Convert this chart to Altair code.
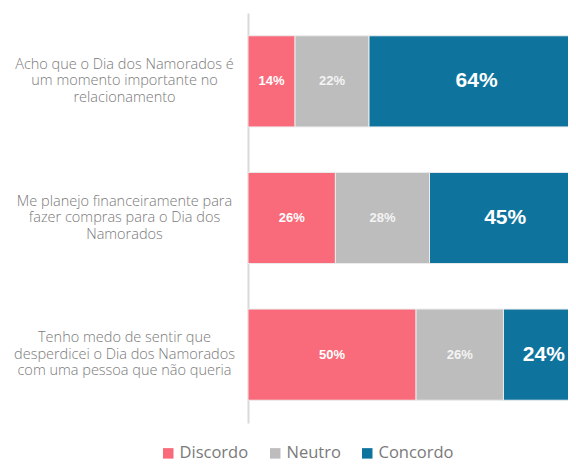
import altair as alt
import pandas as pd

statements = [
    "Acho que o Dia dos Namorados é|um momento importante no|relacionamento",
    "Me planejo financeiramente para|fazer compras para o Dia dos|Namorados",
    "Tenho medo de sentir que|desperdicei o Dia dos Namorados|com uma pessoa que não queria",
]
answers = ["Discordo", "Neutro", "Concordo"]
discordo = [14, 26, 50]
neutro = [22, 28, 26]
concordo = [64, 45, 24]
colors = ["#F96B7A", "#BDBDBD", "#0E749E"]
label_colors = ["#ffffff", "#f4f4f4", "#ffffff"]
label_sizes = [13, 13, 21]

rows = []
for i, s in enumerate(statements):
    start = 0
    for j, (a, vals) in enumerate(zip(answers, [discordo, neutro, concordo])):
        v = vals[i]
        rows.append({
            "statement": s, "answer": a, "value": v,
            "start": start, "end": start + v, "mid": start + v / 2,
            "label": f"{v}%", "order": j,
            "lcolor": label_colors[j], "lsize": label_sizes[j],
        })
        start += v
df = pd.DataFrame(rows)

xscale = alt.Scale(domain=[0, 95.2], nice=False, zero=True)
yenc = alt.Y("statement:N", sort=statements, title=None,
             scale=alt.Scale(paddingInner=0.333, paddingOuter=0.1667),
             axis=alt.Axis(domainColor="#d9d9d9", domainWidth=2, ticks=False,
                           labelExpr="split(datum.label, '|')",
                           labelAlign="center", labelPadding=124,
                           labelOffset=-16.5,
                           labelFont="Open Sans", labelFontSize=14.5,
                           labelFontWeight=300, labelColor="#7a7a7a",
                           labelLineHeight=16.5, labelLimit=300))

bars = alt.Chart(df).mark_bar(clip=True, stroke="#ececec", strokeWidth=1).encode(
    x=alt.X("start:Q", scale=xscale, axis=None),
    x2="end:Q",
    y=yenc,
    color=alt.Color("answer:N", sort=answers,
                    scale=alt.Scale(domain=answers, range=colors),
                    legend=alt.Legend(title=None, orient="none", direction="horizontal",
                                      legendX=-88, legendY=432,
                                      symbolType="square", symbolSize=110,
                                      symbolStrokeWidth=0,
                                      labelFont="Open Sans", labelFontSize=16.5,
                                      labelColor="#7a7a7a", columnPadding=18,
                                      labelOffset=3)),
)

texts = alt.Chart(df).mark_text(font="Liberation Sans", fontWeight="bold").encode(
    x=alt.X("mid:Q", scale=xscale),
    y=alt.Y("statement:N", sort=statements),
    text="label:N",
    color=alt.Color("lcolor:N", scale=None),
    size=alt.Size("lsize:Q", scale=None),
)

chart = alt.layer(bars, texts).properties(
    width=320, height=410,
    autosize=alt.AutoSizeParams(type="none"),
    padding={"left": 240, "top": 5, "right": 0, "bottom": 42},
).configure_view(stroke=None).configure_axis(grid=False)

chart.save("out.html", embed_options={"renderer": "svg", "actions": False})
